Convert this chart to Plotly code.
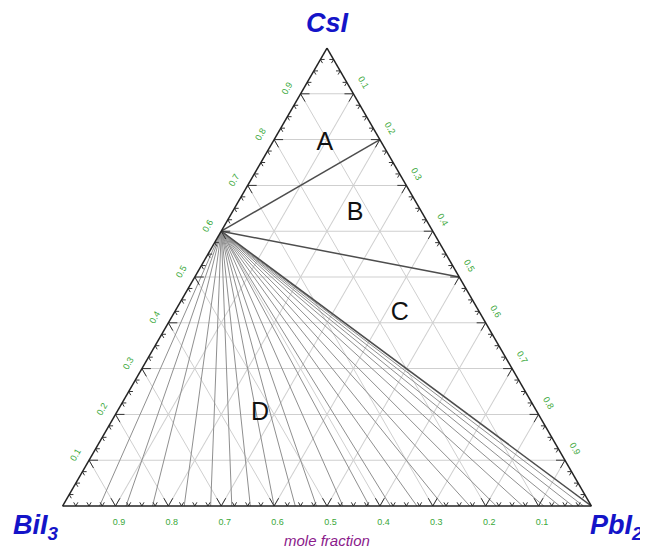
import plotly.graph_objects as go

# ---- data ----
origin_a, origin_b, origin_c = 0.6, 0.4, 0.0          # Cs3Bi2I9 on CsI-BiI3 edge
tie_a = [0.8, 0.5, 0.0]                               # main tie lines (dark)
tie_b = [0.0, 0.0, 0.0]
tie_c = [0.2, 0.5, 1.0]
fan_b = [0.93, 0.88, 0.83, 0.77, 0.72, 0.68, 0.645, 0.60, 0.56, 0.52, 0.47,
         0.42, 0.38, 0.33, 0.28, 0.23, 0.18, 0.13, 0.09, 0.06, 0.035, 0.015]
label_text = ["A", "B", "C", "D"]
label_a = [0.79, 0.638, 0.419, 0.201]
label_c = [0.101, 0.234, 0.428, 0.273]
tick_vals = [0.1, 0.2, 0.3, 0.4, 0.5, 0.6, 0.7, 0.8, 0.9]
tick_text = ["0.1", "0.2", "0.3", "0.4", "0.5", "0.6", "0.7", "0.8", "0.9"]
minor_step = 0.025
vertex_titles = ["CsI", "BiI<sub>3</sub>", "PbI<sub>2</sub>"]

W, H = 648, 550
ML, MR, MT, MB = 54, 64, 40, 52
PAGE_OFFSET = 8  # default body margin of the html page


def px_to_paper(px, py):
    px -= PAGE_OFFSET
    py -= PAGE_OFFSET
    return (px - ML) / (W - ML - MR), (H - MB - py) / (H - MT - MB)


fig = go.Figure()

# fan lines to BiI3-PbI2 edge
fa, fb, fc = [], [], []
for b in fan_b:
    fa += [origin_a, 0.0, None]
    fb += [origin_b, b, None]
    fc += [origin_c, 1 - b, None]
fig.add_trace(go.Scatterternary(a=fa, b=fb, c=fc, mode="lines",
                                line=dict(color="#8f8f8f", width=1),
                                hoverinfo="skip", showlegend=False))

# main tie lines
ta, tb, tc = [], [], []
for a, b, c in zip(tie_a, tie_b, tie_c):
    ta += [origin_a, a, None]
    tb += [origin_b, b, None]
    tc += [origin_c, c, None]
fig.add_trace(go.Scatterternary(a=ta, b=tb, c=tc, mode="lines",
                                line=dict(color="#4d4d4d", width=1.5),
                                hoverinfo="skip", showlegend=False))

# V-shaped ticks on all three edges
ka, kb, kc = [], [], []
n = int(round(1 / minor_step))
for i in range(1, n):
    t = i * minor_step
    major = abs(t * 10 - round(t * 10)) < 1e-9
    d = 0.017 if major else 0.008
    # bottom edge (a=0), b = t
    ka += [d, 0, d, None]; kb += [t, t, t - d, None]; kc += [1 - t - d, 1 - t, 1 - t, None]
    # left edge (c=0), a = t
    ka += [t, t, t - d, None]; kb += [1 - t - d, 1 - t, 1 - t, None]; kc += [d, 0, d, None]
    # right edge (b=0), c = t
    ka += [1 - t, 1 - t, 1 - t - d, None]; kb += [d, 0, d, None]; kc += [t - d, t, t, None]
fig.add_trace(go.Scatterternary(a=ka, b=kb, c=kc, mode="lines",
                                line=dict(color="#333333", width=1),
                                hoverinfo="skip", showlegend=False))

# region labels
fig.add_trace(go.Scatterternary(a=label_a, c=label_c,
                                b=[1 - a - c for a, c in zip(label_a, label_c)],
                                mode="text", text=label_text,
                                textfont=dict(family="Liberation Sans", size=25, color="#111111"),
                                hoverinfo="skip", showlegend=False))

title_font = dict(family="Liberation Sans", size=27, color="#1414c8", weight="bold", style="italic")
tick_font = dict(family="Liberation Sans", size=9, color="#3aa83a")
axis_common = dict(title=dict(text=""), tickvals=tick_vals, ticktext=tick_text,
                   ticks="outside", ticklen=7,
                   tickcolor="rgba(0,0,0,0)", tickfont=tick_font,
                   showgrid=True, gridcolor="#cfcfcf", gridwidth=1,
                   showline=True, linecolor="#222222", linewidth=1.5)

annotations = []
for txt, (px, py) in zip(vertex_titles, [(327, 23), (36, 527), (616, 527)]):
    x, y = px_to_paper(px, py)
    annotations.append(dict(text=txt, x=x, y=y, xref="paper", yref="paper",
                            xanchor="center", yanchor="middle",
                            showarrow=False, font=title_font))
x, y = px_to_paper(327, 540)
annotations.append(dict(text="mole fraction", x=x, y=y, xref="paper", yref="paper",
                        xanchor="center", yanchor="middle", showarrow=False,
                        font=dict(family="Liberation Sans", size=15, color="#8b1a8b", style="italic")))

fig.update_layout(
    width=W, height=H,
    margin=dict(l=ML, r=MR, t=MT, b=MB),
    paper_bgcolor="white",
    ternary=dict(
        bgcolor="white",
        sum=1,
        aaxis=dict(tickangle=-60, **axis_common),
        baxis=dict(tickangle=0, **axis_common),
        caxis=dict(tickangle=60, **axis_common),
    ),
    annotations=annotations,
)

fig.write_html("out.html")
